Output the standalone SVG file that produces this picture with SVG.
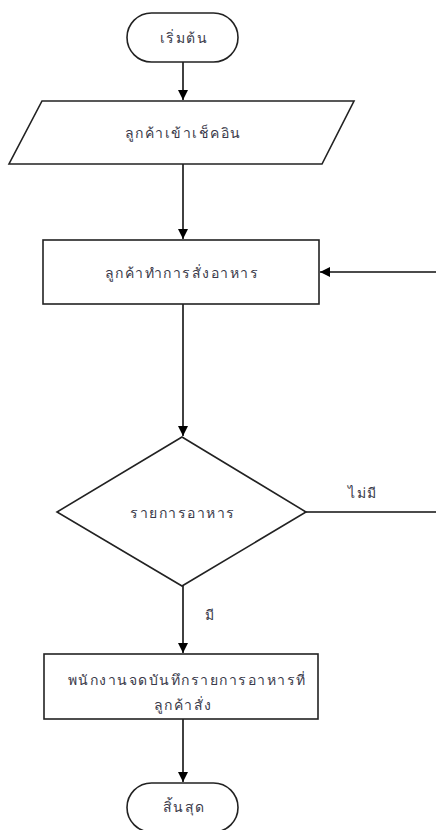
<svg xmlns="http://www.w3.org/2000/svg" width="436" height="830" viewBox="0 0 436 830">
<style>
.shape{fill:#fff;stroke:#222;stroke-width:1.6}
.conn{fill:none;stroke:#111;stroke-width:1.6}
text{font-family:"Noto Sans","DejaVu Sans","Liberation Sans",sans-serif;font-size:14px;letter-spacing:1.5px;fill:#3a3a4a;text-anchor:middle}
</style>
<defs>
<marker id="arr" viewBox="0 0 10 10" refX="10" refY="5" markerWidth="10" markerHeight="10" markerUnits="userSpaceOnUse" orient="auto">
<path d="M0,0 L10,5 L0,10 Z" fill="#000"/>
</marker>
</defs>
<g id="connectors">
<line class="conn" x1="183" y1="62" x2="183" y2="100" marker-end="url(#arr)"/>
<line class="conn" x1="183" y1="164" x2="183" y2="239" marker-end="url(#arr)"/>
<line class="conn" x1="183" y1="304" x2="183" y2="436" marker-end="url(#arr)"/>
<line class="conn" x1="183" y1="586" x2="183" y2="653" marker-end="url(#arr)"/>
<line class="conn" x1="183" y1="719" x2="183" y2="782" marker-end="url(#arr)"/>
<path class="conn" d="M306,512 H438 V272 H320" marker-end="url(#arr)"/>
<text x="363" y="498">ไม่มี</text>
<text x="210" y="620">มี</text>
</g>
<g id="start">
<rect class="shape" x="127" y="13" width="111" height="49" rx="24.5" ry="24.5"/>
<text x="184" y="43">เริ่มต้น</text>
</g>
<g id="checkin">
<polygon class="shape" points="42,101 354,101 322,164 9,164"/>
<text x="183" y="138">ลูกค้าเข้าเช็คอิน</text>
</g>
<g id="order">
<rect class="shape" x="43" y="240" width="276" height="64"/>
<text x="182" y="278">ลูกค้าทำการสั่งอาหาร</text>
</g>
<g id="decision">
<polygon class="shape" points="182,437 306,512 182,586 57,512"/>
<text x="183" y="518">รายการอาหาร</text>
</g>
<g id="record">
<rect class="shape" x="44" y="654" width="274" height="65"/>
<text x="187" y="685">พนักงานจดบันทึกรายการอาหารที่</text>
<text x="183" y="710">ลูกค้าสั่ง</text>
</g>
<g id="end">
<rect class="shape" x="127" y="783" width="111" height="49" rx="24.5" ry="24.5"/>
<text x="184" y="812">สิ้นสุด</text>
</g>
</svg>
